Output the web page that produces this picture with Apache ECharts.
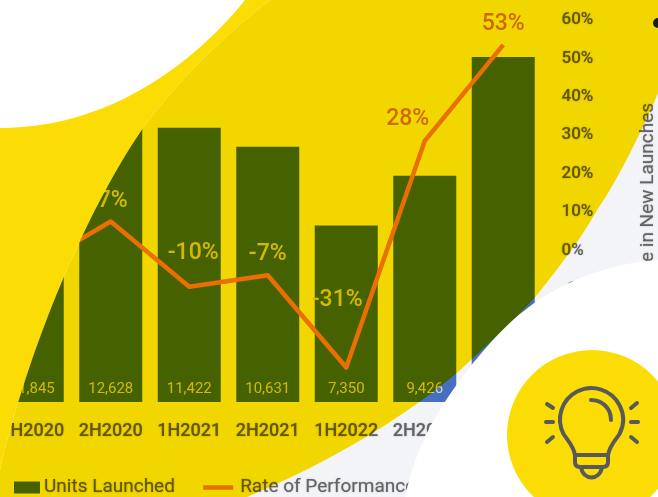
<!DOCTYPE html>
<html>
<head>
<meta charset="utf-8">
<style>
html, body { margin: 0; padding: 0; background: #fff; }
#main-chart { width: 658px; height: 497px; }
</style>
<script src="https://cdn.jsdelivr.net/npm/echarts@6/dist/echarts.min.js"></script>
</head>
<body>
<div id="main-chart"></div>
<script>
const periods = ['1H2020', '2H2020', '1H2021', '2H2021', '1H2022', '2H2022', '1H2023'];
const unitsLaunched = [11845, 12628, 11422, 10631, 7350, 9426, 14380];
const ratePct = [-5, 7, -10, -7, -31, 28, 53];

const unitsName = 'Units Launched';
const rateName = 'Rate of Performance in New Launches';

const textFont = 'Roboto';
const inkGrey = '#686868';
const soft = { textShadowColor: 'rgba(104,104,104,0.6)', textShadowBlur: 1.5 };

// label spots picked by eye, the picture doesn't keep them on the points
const rateLabelOffset = [[0, 0], [2, 1], [4, -12], [0, 0], [-9, -46], [-17, 0], [0, 1]];
const rateLabelColor = ['#dedede', '#dedede', '#dedede', '#dedede', '#dedede', '#d8802c', '#d8802c'];

// backdrop shapes, the chart shows through the two multiply layers
const yellowEdge = 'C640 135 615 185 597 210 C583 235 565 260 537 295 C515 320 490 342 457 373 C400 420 330 462 247 497';
const backdropPaths = {
    yellowZone: 'M-6 497 C20 370 80 220 143 128 C180 78 225 35 270 0 L658 0 L658 93 ' + yellowEdge + ' Z',
    greyZone: 'M658 93 ' + yellowEdge + ' L658 497 Z',
    leftBand: 'M0 0 L270 0 C225 35 180 78 143 128 C80 220 20 370 -6 497 L0 497 Z',
    topBlob: 'M0 0 L245 0 C205 50 120 128 0 128 Z',
    cornerBlob: 'M405 497 C412 465 425 432 440 410 C452 390 480 350 513 320 C530 305 545 295 563 286 C590 272 625 262 658 260 L658 497 Z',
    bulbHead: 'M575 455 C573 445 568 441 563.5 434 A31.5 31.5 0 1 1 619.5 434 C615 441 610 445 608 455 Z',
    bulbBase: 'M575 455 L608 455 L608 462 Q608 467 603 467 L580 467 Q575 467 575 462 Z M581 467 C583 481 600 481 602 467',
    bulbShine: 'M591 400 C602 400 611 408 611 420',
    bulbRays: 'M547 404 L553 408 M546 422 L553 422 M547 442 L553 437 M637 403 L631 408 M638 422 L631 422 M637 442 L631 437'
};
Object.keys(backdropPaths).forEach(function (name) {
    echarts.graphic.registerShape(name, echarts.graphic.extendPath(backdropPaths[name], {}));
});
const bulbStroke = { fill: 'none', stroke: '#58595b', lineWidth: 4, lineCap: 'round', lineJoin: 'round' };

let mainChart = echarts.init(document.getElementById('main-chart'));

mainChart.setOption({
    animation: false,
    backgroundColor: '#ffffff',
    grid: { left: -7, width: 549.5, top: 18, height: 384, containLabel: false, outerBoundsMode: 'none' },
    legend: {
        left: 9,
        top: 473,
        itemWidth: 30,
        itemHeight: 12,
        itemGap: 26,
        textStyle: { fontFamily: textFont, fontSize: 19, color: inkGrey, ...soft },
        data: [
            {
                name: unitsName,
                icon: 'path://M0 0H26V12H0Z M30 6L30 6',
                textStyle: { padding: [0, 0, 0, -5] }
            },
            {
                name: rateName,
                itemStyle: { opacity: 0 },
                lineStyle: { width: 4.5, color: '#f58432' },
                textStyle: { padding: [0, 0, 0, 2] }
            }
        ]
    },
    xAxis: {
        type: 'category',
        data: periods,
        axisLine: { show: false },
        axisTick: { show: false },
        axisLabel: {
            interval: 0,
            hideOverlap: false,
            fontFamily: textFont,
            fontSize: 18,
            fontWeight: 500,
            color: inkGrey,
            margin: 20,
            ...soft
        }
    },
    yAxis: [
        { type: 'value', min: 0, max: 16000, show: false },
        {
            type: 'value',
            position: 'right',
            min: -40,
            max: 60,
            interval: 10,
            splitLine: { show: false },
            axisLine: { show: false },
            axisTick: { show: false },
            axisLabel: {
                margin: 19,
                formatter: '{tick|{value}%}',
                rich: {
                    tick: {
                        fontFamily: textFont,
                        fontSize: 17,
                        fontWeight: 500,
                        color: inkGrey,
                        padding: [4, 0, 0, 0],
                        ...soft
                    }
                }
            },
            name: rateName,
            nameLocation: 'middle',
            nameRotate: 90,
            nameGap: 96,
            nameTextStyle: { fontFamily: textFont, fontSize: 19, color: inkGrey, padding: [0, 110, 0, 0], ...soft }
        }
    ],
    series: [
        {
            name: unitsName,
            type: 'bar',
            data: unitsLaunched,
            barWidth: 63,
            itemStyle: { color: '#4a74c6' },
            label: {
                show: true,
                position: 'insideBottom',
                distance: 5,
                fontFamily: textFont,
                fontSize: 15,
                color: '#dedede',
                formatter: (p) => p.value.toLocaleString('en-US')
            }
        },
        {
            name: rateName,
            type: 'line',
            yAxisIndex: 1,
            symbol: 'circle',
            symbolSize: 0,
            z: 3,
            lineStyle: { color: '#f58432', width: 4.5, join: 'round' },
            itemStyle: { color: '#f58432' },
            data: ratePct.map((v, i) => ({
                value: v,
                label: {
                    show: true,
                    position: 'top',
                    distance: 10,
                    fontFamily: textFont,
                    fontSize: 23,
                    fontWeight: 500,
                    color: rateLabelColor[i],
                    offset: rateLabelOffset[i],
                    formatter: '{c}%'
                }
            }))
        }
    ],
    graphic: [
        { type: 'yellowZone', z: 100, style: { fill: '#f2d600', blend: 'multiply' } },
        { type: 'greyZone', z: 100, style: { fill: '#f3f4f7', blend: 'multiply' } },
        { type: 'leftBand', z: 110, style: { fill: '#fbdc05' } },
        { type: 'topBlob', z: 111, style: { fill: '#ffffff' } },
        { type: 'cornerBlob', z: 111, style: { fill: '#ffffff' } },
        { type: 'circle', z: 112, shape: { cx: 592, cy: 435, r: 85 }, style: { fill: '#fbdc05' } },
        { type: 'bulbHead', z: 113, style: bulbStroke },
        { type: 'bulbBase', z: 113, style: bulbStroke },
        { type: 'bulbShine', z: 113, style: bulbStroke },
        { type: 'bulbRays', z: 113, style: bulbStroke },
        { type: 'circle', z: 113, shape: { cx: 658, cy: 23, r: 5 }, style: { fill: '#1c1c1c' } }
    ]
});
</script>
</body>
</html>
